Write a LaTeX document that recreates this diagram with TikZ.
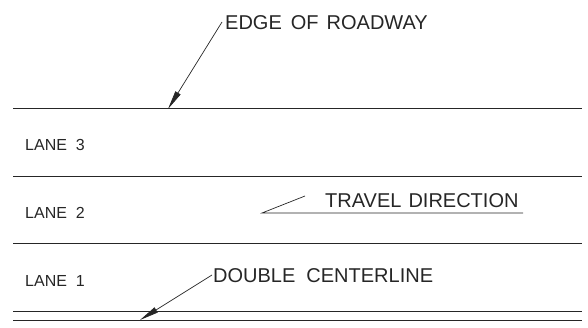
\documentclass[tikz,border=0pt]{standalone}
\usepackage{fontspec}
\setmainfont{Liberation Sans}
\usetikzlibrary{arrows.meta}
\begin{document}
\begin{tikzpicture}[x=1pt,y=-1pt,
  road/.style={line width=0.8pt,draw=black!85},
  leader/.style={line width=0.7pt,draw=black!85},
  leadarrow/.style={leader,-{Triangle[length=19pt,width=6pt]}},
  biglabel/.style={anchor=base west,inner sep=0pt,font=\fontsize{20}{22}\selectfont,text=black!85},
  lanelabel/.style={anchor=base west,inner sep=0pt,font=\fontsize{16}{18}\selectfont,text=black!85}]
\path[use as bounding box] (0,0) rectangle (588,328);
% road lines
\coordinate (e1) at (13,108);  \coordinate (e2) at (582,108);
\coordinate (l1) at (13,176);  \coordinate (l2) at (582,176);
\coordinate (m1) at (13,243);  \coordinate (m2) at (582,243);
\coordinate (c1) at (13,311);  \coordinate (c2) at (582,311);
\coordinate (d1) at (13,320);  \coordinate (d2) at (582,320);
\draw[road] (e1) -- (e2);
\draw[road] (l1) -- (l2);
\draw[road] (m1) -- (m2);
\draw[road] (c1) -- (c2);
\draw[road] (d1) -- (d2);
% lane labels
\node[lanelabel] (lane3) at (25,151) {LANE\hspace{9pt}3};
\node[lanelabel] (lane2) at (25,219) {LANE\hspace{9pt}2};
\node[lanelabel] (lane1) at (25,287) {LANE\hspace{9pt}1};
% edge of roadway
\node[biglabel] (edge) at (225,30) {EDGE\hspace{9pt}OF\hspace{8pt}ROADWAY};
\coordinate (edgefrom) at (222,22);
\coordinate (edgeto) at (168,109);
\draw[leadarrow] (edgefrom) -- (edgeto);
% travel direction
\node[biglabel] (travel) at (325,208) {TRAVEL\hspace{7pt}DIRECTION};
\coordinate (tv0) at (262,213);
\coordinate (tv1) at (305,196);
\coordinate (tv2) at (523,213);
\draw[leader] (tv1) -- (tv0) -- (tv2);
% double centerline
\node[biglabel] (dcl) at (213,283) {DOUBLE\hspace{11pt}CENTERLINE};
\coordinate (dfrom) at (212,275);
\coordinate (dto) at (140,320);
\draw[leadarrow] (dfrom) -- (dto);
\end{tikzpicture}
\end{document}
